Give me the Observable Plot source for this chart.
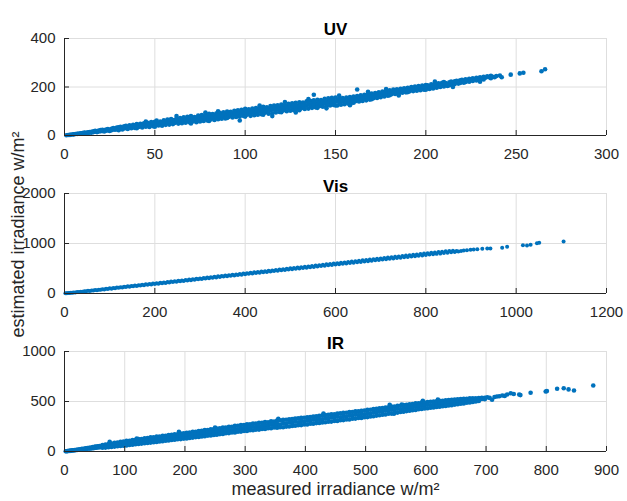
<!DOCTYPE html>
<html>
<head>
<meta charset="utf-8">
<script src="https://cdn.jsdelivr.net/npm/d3@7"></script>
<script src="https://cdn.jsdelivr.net/npm/@observablehq/plot@0.6"></script>
<style>
  body { margin: 0; background: #fff; }
  #chart { position: relative; width: 627px; height: 501px; overflow: hidden; background: #fff; }
  #chart svg { position: absolute; left: 0; overflow: visible; }
</style>
</head>
<body>
<div id="chart"></div>
<script>
// ---------- data (measured, estimated) ----------
const titles = ["UV", "Vis", "IR"];
const xLabel = "measured irradiance w/m²";
const yLabel = "estimated irradiance w/m²";

const uvXTicks = [0, 50, 100, 150, 200, 250, 300];
const uvYTicks = [0, 200, 400];
const visXTicks = [0, 200, 400, 600, 800, 1000, 1200];
const visYTicks = [0, 1000, 2000];
const irXTicks = [0, 100, 200, 300, 400, 500, 600, 700, 800, 900];
const irYTicks = [0, 500, 1000];

const uvPoints = [
[1,1],[2,2],[3,3],[3,2],[4,4],[5,5],[5,4],[6,6],[7,7],[7,6],[8,8],[9,9],[9,7],[10,10],[11,10],[11,12],[12,11],[13,13],[13,11],[14,14],[14,12],
[15,15],[15,12],[16,17],[16,14],[17,16],[17,19],[18,17],[18,14],[19,20],[19,17],[20,18],[20,22],[21,19],[21,23],[22,21],[22,17],[23,25],[23,20],[24,22],[24,27],[25,24],[25,19],[26,28],[26,22],[27,25],[27,31],[28,24],[28,29],[29,33],[29,26],[30,27],[30,34],[30,22],
[31,29],[31,36],[32,25],[32,33],[33,38],[33,29],[34,31],[34,40],[35,27],[35,36],[36,42],[36,33],[37,30],[37,39],[38,44],[38,35],[39,31],[39,41],[40,37],[40,47],[40,30],[41,43],[41,35],[42,48],[42,38],[43,33],[43,44],[44,50],[44,40],[45,36],[45,46],[45,58],[46,52],[46,42],[47,35],[47,48],[48,55],[48,44],[49,38],[49,50],[50,57],[50,45],[50,36],[51,52],[51,62],[52,41],[52,49],[53,58],[53,47],[54,40],[54,55],[55,63],[55,50],[56,44],[56,57],[57,66],[57,52],[58,45],[58,60],[59,54],[59,68],[60,47],[60,58],[60,64],
[61,52],[61,63],[62,70],[62,56],[62,80],[63,49],[63,61],[64,72],[64,58],[65,51],[65,64],[66,75],[66,60],[67,53],[67,66],[68,77],[68,62],[69,55],[69,68],[70,80],[70,63],[70,50],[71,70],[71,58],[72,76],[72,65],[73,55],[73,71],[74,82],[74,67],[75,58],[75,73],[76,84],[76,69],[77,60],[77,75],[78,86],[78,71],[78,95],[79,62],[79,77],[80,90],[80,73],[80,60],[81,79],[81,66],[82,88],[82,75],[83,64],[83,81],[84,91],[84,77],[85,67],[85,83],[85,100],[86,94],[86,79],[87,69],[87,85],[88,96],[88,81],[89,70],[89,87],[90,99],[90,83],[90,72],[91,89],[91,77],[92,98],[92,85],[93,74],[93,91],[94,102],[94,87],[95,76],[95,93],[96,104],[96,89],[97,78],[97,95],[97,62],[98,106],[98,91],[99,81],[99,97],[100,110],[100,93],[100,78],
[101,86],[101,100],[102,108],[102,93],[103,81],[103,98],[104,111],[104,95],[105,84],[105,101],[106,113],[106,97],[107,86],[107,103],[108,115],[108,99],[108,124],[109,88],[109,105],[110,118],[110,101],[110,86],[111,107],[111,94],[112,116],[112,102],[113,90],[113,108],[114,121],[114,104],[115,92],[115,110],[115,80],[116,123],[116,106],[117,95],[117,112],[118,125],[118,108],[119,97],[119,114],[120,128],[120,110],[120,96],[121,116],[121,103],[122,126],[122,112],[122,138],[123,100],[123,118],[124,131],[124,113],[125,102],[125,120],[126,133],[126,115],[127,104],[127,122],[128,135],[128,117],[128,95],[129,107],[129,124],[130,137],[130,119],[130,104],[131,126],[131,112],[132,136],[132,121],[133,109],[133,128],[134,141],[134,123],[135,111],[135,130],[135,150],[136,143],[136,125],[137,114],[137,132],[138,145],[138,127],[138,168],[139,116],[139,134],[140,147],[140,129],[140,114],[141,136],[141,121],[142,146],[142,131],[143,119],[143,138],[144,151],[144,133],[145,121],[145,140],[145,112],[146,153],[146,135],[147,124],[147,142],[148,155],[148,137],[149,126],[149,144],[150,157],[150,139],[150,124],
[151,124],[151,143],[152,152],[152,137],[152,165],[153,127],[153,144],[154,154],[154,140],[155,129],[155,146],[156,157],[156,142],[157,132],[157,149],[158,159],[158,145],[158,125],[159,135],[159,151],[160,161],[160,147],[160,135],[161,154],[161,141],[162,163],[162,150],[162,190],[163,140],[163,156],[164,166],[164,152],[165,142],[165,158],[166,168],[166,155],[167,145],[167,161],[168,171],[168,158],[168,180],[169,148],[169,164],[170,173],[170,160],[170,150],[171,166],[171,154],[172,175],[172,163],[173,155],[173,169],[174,178],[174,165],[175,158],[175,171],[176,181],[176,168],[177,161],[177,174],[178,184],[178,171],[178,192],[179,164],[179,177],[180,186],[180,174],[180,166],[181,180],[181,170],[182,189],[182,177],[183,171],[183,183],[184,191],[184,179],[185,173],[185,186],[185,165],[186,193],[186,181],[187,176],[187,188],[188,195],[188,183],[189,178],[189,190],[190,197],[190,185],[190,179],[191,192],[191,182],[192,200],[192,188],[193,183],[193,194],[194,202],[194,190],[195,185],[195,197],[196,204],[196,192],[197,187],[197,199],[198,206],[198,194],[199,189],[199,201],[200,208],[200,196],[200,189],
[201,199],[201,207],[202,192],[202,203],[203,211],[203,198],[204,194],[204,206],[205,213],[205,201],[205,222],[206,197],[206,208],[207,215],[207,203],[208,200],[208,211],[209,217],[209,205],[210,202],[210,213],[210,220],[211,208],[211,216],[212,204],[212,211],[213,219],[213,207],[214,215],[214,222],[215,210],[215,218],[215,200],[216,224],[216,212],[217,220],[217,226],[218,214],[218,222],[219,228],[219,217],[220,224],[220,230],[221,218],[221,226],[222,232],[222,221],[223,228],[224,234],[224,222],[225,230],[226,236],[226,225],[227,232],[228,238],[228,227],[229,234],[230,240],[230,229],[230,222],[231,236],[232,242],[232,231],[233,238],[234,244],[235,240],[236,246],[236,236],[237,242],[238,240],[239,245],
[241,247],[242,240],[247,251],[252,256],[254,259],[264,265],[266,273]
];

const visPoints = [
[2,3],[5,4],[8,9],[11,10],[14,15],[17,16],[20,21],[24,22],[28,29],[32,30],[36,37],[40,37],[44,45],[48,44],[52,53],[56,52],[60,61],[64,60],[68,69],[72,67],[76,77],[80,74],[84,86],[88,82],[92,93],[96,90],[100,103],[104,97],[108,110],[112,104],[116,118],[120,113],[124,126],[128,119],[132,134],[136,128],[140,143],[144,136],[148,150],[152,144],[156,158],[160,149],[164,165],[168,159],[172,174],[176,166],[180,183],[184,174],[188,190],[192,181],[196,199],[200,190],
[204,206],[208,197],[212,214],[216,206],[220,222],[224,212],[228,231],[232,220],[236,238],[240,228],[244,246],[248,236],[252,255],[256,243],[260,262],[264,251],[268,270],[272,258],[276,279],[280,267],[284,286],[288,275],[292,295],[296,283],[300,302],[304,290],[308,311],[312,298],[316,318],[320,306],[324,327],[328,314],[332,334],[336,322],[340,343],[344,330],[348,350],[352,338],[356,359],[360,346],[364,366],[368,354],[372,375],[376,361],[380,382],[384,369],[388,391],[392,377],[396,398],[400,385],
[404,407],[408,393],[412,414],[416,401],[420,423],[424,409],[428,430],[432,417],[436,439],[440,424],[444,446],[448,432],[452,455],[456,440],[460,462],[464,448],[468,471],[472,455],[476,478],[480,463],[484,487],[488,471],[492,494],[496,479],[500,503],[504,486],[508,510],[512,494],[516,519],[520,502],[524,526],[528,509],[532,535],[536,517],[540,542],[544,525],[548,551],[552,532],[556,558],[560,540],[564,567],[568,548],[572,574],[576,555],[580,583],[584,563],[588,590],[592,571],[596,599],[600,578],
[604,606],[608,586],[612,615],[616,594],[620,622],[624,601],[628,631],[632,609],[636,638],[640,617],[644,647],[648,624],[652,654],[656,632],[660,663],[664,640],[668,670],[672,647],[676,679],[680,655],[684,686],[688,663],[692,695],[696,670],[700,702],[704,678],[708,711],[712,686],[716,718],[720,693],[724,727],[728,701],[732,734],[736,709],[740,742],[744,716],[748,750],[752,724],[756,758],[760,732],[764,766],[768,739],[772,774],[776,747],[780,782],[784,755],[788,790],[792,762],[796,798],[800,770],
[804,806],[808,778],[812,813],[816,785],[820,821],[824,793],[828,829],[832,800],[836,836],[840,808],[844,843],[848,815],[852,850],[856,823],[860,857],[864,830],[868,850],[872,838],[878,852],[884,860],[891,866],[899,873],[906,880],[914,887],[925,895],[936,900],[943,902],[969,913],[980,933],[1015,967],[1024,960],[1032,973],[1046,1007],[1051,1013],[1105,1040]
];

const irPoints = [
[2,2],[3,2],[5,4],[6,5],[8,7],[9,6],[11,9],[12,10],[14,12],[15,11],[17,15],[18,13],[20,17],[21,15],[23,20],[24,17],[26,23],[27,19],[29,26],[30,21],[32,28],[33,24],[35,31],[36,26],[38,34],[39,27],[41,37],[42,29],[44,40],[45,31],[47,44],[48,34],[50,47],[50,36],[52,49],[53,38],[55,52],[56,40],[58,54],[59,43],[60,49],
[63,64],[63,52],[63,38],[68,70],[68,51],[68,39],[73,75],[73,61],[73,42],[75,98],[78,80],[78,58],[78,45],[83,88],[83,69],[83,49],[88,90],[88,66],[88,52],[93,98],[93,77],[93,55],[98,99],[98,75],[98,58],
[103,108],[103,86],[103,61],[108,106],[108,82],[108,66],[113,115],[113,93],[113,68],[118,117],[118,90],[118,72],[120,130],[123,124],[123,101],[123,75],[128,125],[128,97],[128,79],[133,132],[133,108],[133,82],[138,134],[138,104],[138,86],[143,141],[143,116],[143,89],[148,143],[148,112],[148,93],
[153,150],[153,123],[153,96],[158,149],[158,119],[158,100],[163,157],[163,131],[163,103],[168,158],[168,127],[168,107],[173,164],[173,139],[173,110],[178,166],[178,134],[178,115],[183,173],[183,146],[183,117],[188,172],[188,142],[188,122],[190,198],[193,180],[193,154],[193,124],[198,182],[198,150],[198,129],
[203,188],[203,161],[203,131],[208,190],[208,157],[208,136],[213,196],[213,169],[213,139],[218,198],[218,165],[218,144],[223,205],[223,177],[223,146],[228,206],[228,173],[228,151],[233,214],[233,185],[233,153],[238,214],[238,181],[238,159],[243,222],[243,193],[243,161],[248,223],[248,189],[248,166],[250,240],
[253,230],[253,201],[253,168],[258,231],[258,197],[258,174],[263,239],[263,209],[263,176],[268,240],[268,205],[268,182],[273,247],[273,217],[273,184],[278,248],[278,213],[278,190],[283,256],[283,225],[283,191],[288,257],[288,221],[288,197],[293,264],[293,233],[293,199],[298,265],[298,229],[298,205],
[303,273],[303,241],[303,206],[308,272],[308,237],[308,212],[313,280],[313,248],[313,213],[318,279],[318,244],[318,219],[323,287],[323,255],[323,219],[328,286],[328,251],[328,226],[333,294],[333,262],[333,226],[338,293],[338,258],[338,233],[343,301],[343,269],[343,233],[348,300],[348,265],[348,240],
[353,310],[353,276],[353,238],[355,328],[358,312],[358,270],[358,242],[363,316],[363,283],[363,243],[368,318],[368,279],[368,249],[373,322],[373,290],[373,250],[378,324],[378,286],[378,256],[383,329],[383,297],[383,257],[388,331],[388,293],[388,263],[393,336],[393,304],[393,264],[398,338],[398,300],[398,270],
[403,343],[403,311],[403,271],[408,345],[408,307],[408,277],[413,350],[413,318],[413,278],[418,352],[418,314],[418,284],[423,357],[423,325],[423,285],[428,359],[428,321],[428,291],[430,380],[433,365],[433,333],[433,292],[438,366],[438,328],[438,298],[443,372],[443,340],[443,299],[448,373],[448,336],[448,305],
[453,379],[453,347],[453,306],[458,381],[458,343],[458,313],[463,386],[463,354],[463,314],[468,388],[468,350],[468,320],[473,394],[473,362],[473,321],[478,395],[478,357],[478,327],[483,401],[483,369],[483,329],[488,403],[488,365],[488,335],[493,408],[493,376],[493,336],[498,410],[498,372],[498,342],
[503,416],[503,384],[503,344],[508,418],[508,380],[508,350],[513,424],[513,392],[513,352],[518,426],[518,389],[518,359],[523,432],[523,401],[523,362],[528,434],[528,397],[528,368],[533,440],[533,409],[533,370],[538,442],[538,406],[538,377],[540,468],[543,449],[543,418],[543,379],[547,377],[548,450],[548,414],[548,386],
[553,457],[553,427],[553,389],[558,458],[558,423],[558,395],[560,470],[563,465],[563,435],[563,397],[568,466],[568,431],[568,404],[573,473],[573,444],[573,407],[578,474],[578,440],[578,413],[583,481],[583,452],[583,415],[588,482],[588,448],[588,422],[593,489],[593,461],[593,425],[595,508],[598,490],[598,457],[598,431],
[603,495],[603,468],[603,433],[608,497],[608,463],[608,438],[613,500],[613,474],[613,440],[618,502],[618,469],[618,446],[620,520],[623,507],[623,480],[623,448],[628,508],[628,476],[628,453],[633,513],[633,487],[633,455],[638,514],[638,483],[638,461],[643,518],[643,494],[643,463],[648,520],[648,490],[648,469],
[653,522],[653,500],[653,472],[658,524],[658,497],[658,478],[663,527],[663,507],[663,481],[668,528],[668,504],[668,487],[673,531],[673,513],[673,490],[678,532],[678,510],[678,496],[683,533],[683,519],[683,500],[688,535],[688,516],[688,505],[693,537],[693,525],[698,538],[698,522],
[702,543],[706,536],[710,517],[714,545],[718,550],[722,553],[727,560],[731,556],[735,570],[741,583],[746,575],[755,570],[757,564],[774,587],[799,600],[801,604],[818,627],[829,633],[837,621],[846,610],[878,660]
];

// ---------- drawing ----------
const FONT = "'Liberation Sans', Arial, Helvetica, sans-serif";
const AXIS = "#262626";
const GRID = "#dedede";
const DOT = "#0072BD";
const W = 627, ML = 64, MR = 21;
const chart = document.getElementById("chart");
const fmt = d => String(d);

function panel({data, xTicks, yTicks, title, top, h, mt, mb, titleDy, r, extra = []}) {
  const innerW = W - ML - MR;
  const innerH = h - mt - mb;
  const svg = Plot.plot({
    width: W, height: h,
    marginLeft: ML, marginRight: MR, marginTop: mt, marginBottom: mb,
    style: {fontFamily: FONT, fontSize: "15px", color: AXIS, background: "transparent", overflow: "visible"},
    x: {domain: [xTicks[0], xTicks[xTicks.length - 1]]},
    y: {domain: [yTicks[0], yTicks[yTicks.length - 1]]},
    marks: [
      Plot.gridX(xTicks, {stroke: GRID, strokeOpacity: 1}),
      Plot.gridY(yTicks, {stroke: GRID, strokeOpacity: 1}),
      Plot.dot(data, {x: d => d[0], y: d => d[1], r, fill: DOT}),
      Plot.ruleY([yTicks[0]], {stroke: AXIS}),
      Plot.ruleX([xTicks[0]], {stroke: AXIS}),
      Plot.tickX(xTicks, {x: d => d, insetTop: innerH - 5, stroke: AXIS}),
      Plot.tickY(yTicks, {y: d => d, insetRight: innerW - 5, stroke: AXIS}),
      Plot.axisX(xTicks, {tickSize: 0, tickPadding: 13, label: null, fill: AXIS, tickFormat: fmt}),
      Plot.axisY(yTicks, {tickSize: 0, tickPadding: 9, label: null, fill: AXIS, tickFormat: fmt}),
      Plot.text([title], {frameAnchor: "top", dy: titleDy, fontWeight: "bold", fontSize: 17, fill: "#000"}),
      ...extra
    ]
  });
  svg.style.top = top + "px";
  chart.appendChild(svg);
}

panel({data: uvPoints, xTicks: uvXTicks, yTicks: uvYTicks, title: titles[0], top: 0, h: 160, mt: 38, mb: 25, titleDy: -15.4, r: 2.3});
panel({data: visPoints, xTicks: visXTicks, yTicks: visYTicks, title: titles[1], top: 160, h: 160, mt: 33, mb: 27, titleDy: -13.1, r: 2});
panel({data: irPoints, xTicks: irXTicks, yTicks: irYTicks, title: titles[2], top: 320, h: 181, mt: 31, mb: 50, titleDy: -14.4, r: 2.3,
  extra: [Plot.text([xLabel], {frameAnchor: "bottom", dy: 43.5, fontSize: 18, fill: AXIS})]});

// shared y-axis label
const ov = d3.create("svg")
  .attr("width", W).attr("height", 501)
  .style("top", "0px").style("pointer-events", "none");
ov.append("text")
  .attr("transform", "translate(23.5,234.5) rotate(-90)")
  .attr("text-anchor", "middle")
  .attr("font-family", FONT)
  .attr("font-size", 18)
  .attr("fill", AXIS)
  .text(yLabel);
chart.appendChild(ov.node());
</script>
</body>
</html>
